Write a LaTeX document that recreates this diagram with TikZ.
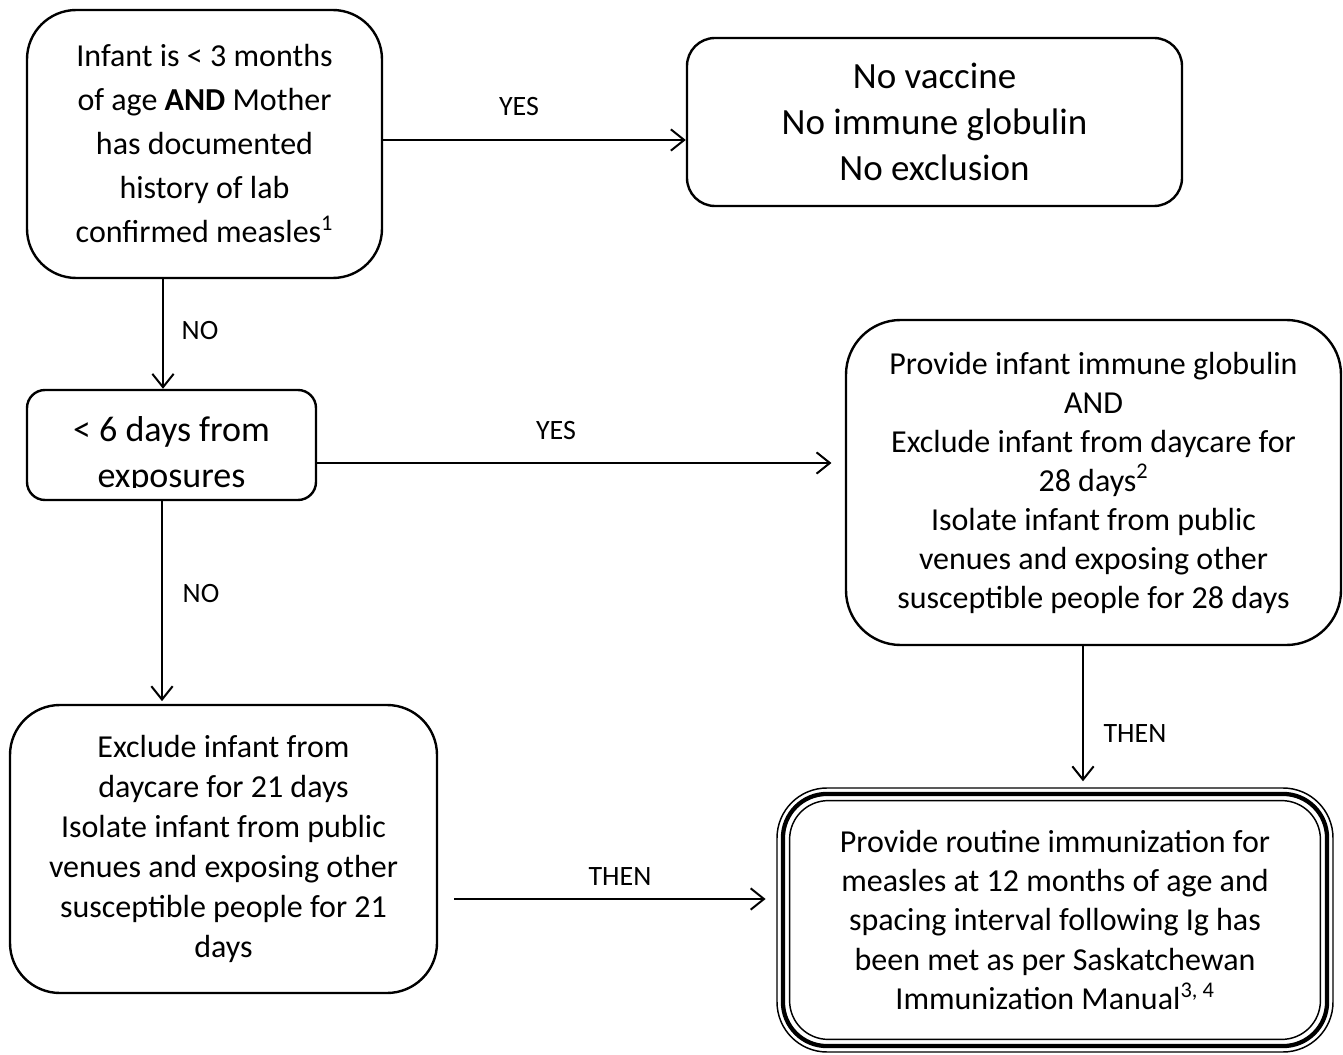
\documentclass[tikz,border=0pt]{standalone}
\usepackage{fontspec}
\setmainfont{Carlito}
\usetikzlibrary{arrows.meta}
\begin{document}
\begin{tikzpicture}[x=0.75pt,y=-0.75pt,
  box/.style={draw, line width=1.8pt, align=center, inner sep=0pt, text=black},
  arr/.style={-{Straight Barb[length=10pt,width=16pt,line width=1.5pt]}, line width=1.5pt},
  lab/.style={font=\fontsize{21}{25}\selectfont, inner sep=0pt}]
\useasboundingbox (0,0) rectangle (1343,1055);

\node[box, rounded corners=37pt, minimum width=266.25pt, minimum height=201pt,
  font=\fontsize{24}{33}\selectfont] (q1) at (204.5,144)
  {Infant is < 3 months\\of age \textbf{AND} Mother\\has documented\\history of lab\\confirmed measles\textsuperscript{1}};

\node[box, rounded corners=21pt, minimum width=371.25pt, minimum height=126pt,
  font=\fontsize{27.75}{34.5}\selectfont] (novac) at (934.5,122)
  {No vaccine\\No immune globulin\\No exclusion};

\node[box, rounded corners=13.5pt, minimum width=216.75pt, minimum height=82.5pt] (days) at (171.5,445) {};
\begin{scope}
  \clip (days.north west) rectangle ([yshift=10.5pt]days.south east);
  \node[align=center, inner sep=0pt, anchor=north, font=\fontsize{27}{34.5}\selectfont]
    (daystext) at ([yshift=-20.5pt]days.north) {< 6 days from\\exposures};
\end{scope}

\node[box, rounded corners=41pt, minimum width=371.25pt, minimum height=243.75pt,
  font=\fontsize{24}{29.25}\selectfont] (ig) at (1093.5,482.5)
  {Provide infant immune globulin\\AND\\Exclude infant from daycare for\\28 days\textsuperscript{2}\\Isolate infant from public\\venues and exposing other\\susceptible people for 28 days};

\node[box, rounded corners=37.5pt, minimum width=320.25pt, minimum height=216pt,
  font=\fontsize{24}{30}\selectfont] (excl21) at (223.5,849)
  {Exclude infant from\\daycare for 21 days\\Isolate infant from public\\venues and exposing other\\susceptible people for 21\\days};

\node[box, line width=1.1pt, rounded corners=37.5pt, minimum width=417pt, minimum height=198pt,
  font=\fontsize{24}{29.6}\selectfont] (routine) at (1055,920)
  {Provide routine immunization for\\measles at 12 months of age and\\spacing interval following Ig has\\been met as per Saskatchewan\\Immunization Manual\textsuperscript{3, 4}};
\draw[line width=3.2pt, rounded corners=33pt]
  ([xshift=5pt,yshift=-5pt]routine.north west) rectangle ([xshift=-5pt,yshift=5pt]routine.south east);
\draw[line width=1.1pt, rounded corners=29pt]
  ([xshift=10pt,yshift=-10pt]routine.north west) rectangle ([xshift=-10pt,yshift=10pt]routine.south east);

\coordinate (c1) at (0,140);
\coordinate (c2) at (163,0);
\coordinate (c3) at (0,463);
\coordinate (c4) at (162,0);
\coordinate (c5) at (1083,0);
\coordinate (c6) at (0,899);

\draw[arr] (q1.east |- c1) -- (novac.west |- c1);
\draw[arr] (q1.south -| c2) -- (days.north -| c2);
\draw[arr, shorten >=10pt] (days.east |- c3) -- (ig.west |- c3);
\draw[arr, shorten >=2pt] (days.south -| c4) -- (excl21.north -| c4);
\draw[arr, shorten >=4.5pt] (ig.south -| c5) -- (routine.north -| c5);
\draw[arr, shorten <=12pt, shorten >=8pt] (excl21.east |- c6) -- (routine.west |- c6);

\node[lab] (l1) at (519,107) {YES};
\node[lab] (l2) at (200,331) {NO};
\node[lab] (l3) at (556,431) {YES};
\node[lab] (l4) at (201,594) {NO};
\node[lab] (l5) at (1135,734) {THEN};
\node[lab] (l6) at (620,877) {THEN};
\end{tikzpicture}
\end{document}
